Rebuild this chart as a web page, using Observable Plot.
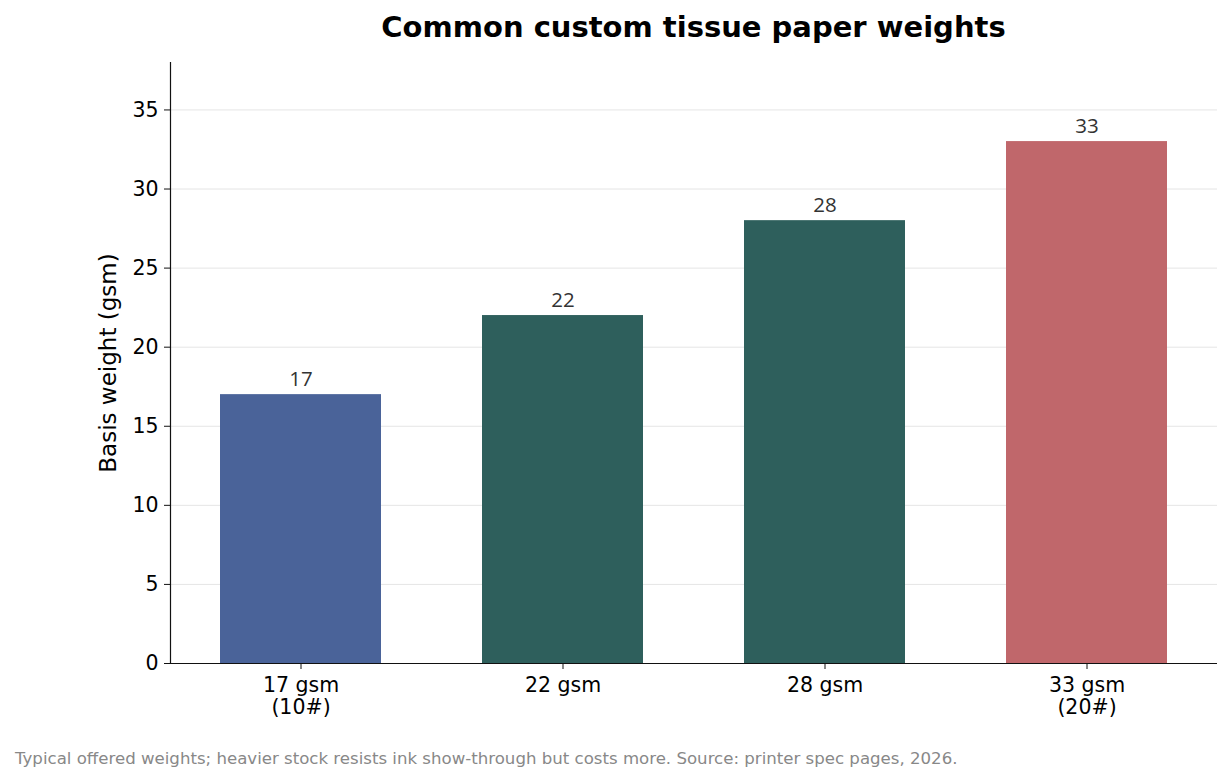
<!DOCTYPE html>
<html>
<head>
<meta charset="utf-8">
<script src="https://cdn.jsdelivr.net/npm/d3@7"></script>
<script src="https://cdn.jsdelivr.net/npm/@observablehq/plot@0.6"></script>
<style>
  html, body { margin: 0; padding: 0; background: #fff; overflow: hidden; }
  #wrap { position: relative; width: 1231px; height: 783px; }
  #title { position: absolute; left: 170px; width: 1047px; top: 9px; text-align: center;
           font-family: "DejaVu Sans"; font-weight: bold; font-size: 29px; line-height: 36px; color: #000; }
  #caption { position: absolute; left: 15px; top: 747px; font-family: "DejaVu Sans";
             font-size: 16.6px; line-height: 23px; color: #888; white-space: nowrap; }
  #chart { position: absolute; left: 0; top: 0; }
</style>
</head>
<body>
<div id="wrap">
  <div id="chart"></div>
  <div id="title">Common custom tissue paper weights</div>
  <div id="caption">Typical offered weights; heavier stock resists ink show-through but costs more. Source: printer spec pages, 2026.</div>
</div>
<script>
const categories = ["17 gsm\n(10#)", "22 gsm", "28 gsm", "33 gsm\n(20#)"];
const weights = [17, 22, 28, 33];
const valueLabels = ["17", "22", "28", "33"];
const barColors = ["#4a6399", "#2e5f5c", "#2e5f5c", "#c0676b"];
const yTicks = [0, 5, 10, 15, 20, 25, 30, 35];
const yLabel = "Basis weight (gsm)";

const data = categories.map((c, i) => ({cat: c, w: weights[i], label: valueLabels[i], color: barColors[i]}));

const chart = Plot.plot({
  width: 1231,
  height: 730,
  marginTop: 62,
  marginLeft: 170,
  marginRight: 14,
  marginBottom: 67,
  style: {fontFamily: "DejaVu Sans", fontSize: "20px", color: "#000", background: "transparent"},
  x: {domain: categories, paddingInner: 0.387, paddingOuter: 0.186, label: null},
  y: {domain: [0, 38], label: null},
  color: {type: "identity"},
  marks: [
    Plot.gridY(yTicks.slice(1), {stroke: "#e5e5e5", strokeOpacity: 1, strokeWidth: 1}),
    Plot.barY(data, {x: "cat", y: "w", fill: "color"}),
    Plot.text(data, {x: "cat", y: "w", text: "label", dy: -9, lineAnchor: "bottom",
                     fontFamily: "Open Sans", fontSize: 20.5, fill: "#333"}),
    Plot.axisY(yTicks, {tickSize: 6, tickPadding: 6, fontSize: 20.5, label: null, stroke: "#111", fill: "#000"}),
    Plot.axisX({tickSize: 6, text: null, label: null, stroke: "#111"}),
    Plot.text(data, {x: "cat", text: "cat", frameAnchor: "bottom", dy: 13, lineAnchor: "top",
                     lineHeight: 1.08, fontSize: 20.5, fill: "#000"}),
    Plot.text([yLabel], {frameAnchor: "left", dx: -62, rotate: -90, textAnchor: "middle", fontSize: 23, fill: "#000"}),
    Plot.ruleY([0], {stroke: "#111", strokeWidth: 1.2}),
    Plot.frame({anchor: "left", stroke: "#111", strokeWidth: 1.2})
  ]
});
document.getElementById("chart").appendChild(chart);
</script>
</body>
</html>
